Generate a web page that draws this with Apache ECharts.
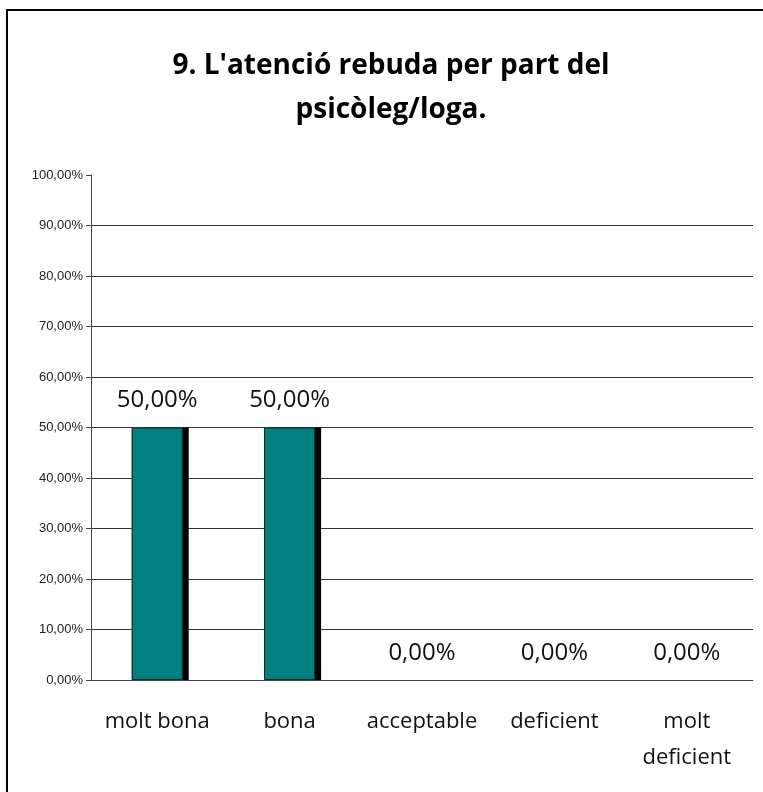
<!DOCTYPE html>
<html>
<head>
<meta charset="utf-8">
<script src="https://cdn.jsdelivr.net/npm/echarts@6/dist/echarts.min.js"></script>
<style>
  html, body { margin: 0; padding: 0; background: #fff; }
  #chart { width: 763px; height: 792px; }
</style>
</head>
<body>
<div id="chart"></div>
<script>
var categories = ['molt bona', 'bona', 'acceptable', 'deficient', 'molt\ndeficient'];
var values = [50, 50, 0, 0, 0];
var titleText = "9. L'atenció rebuda per part del\npsicòleg/loga.";

function pct(v) {
    return v.toFixed(2).replace('.', ',') + '%';
}

var myChart = echarts.init(document.getElementById('chart'));

// empty bars: no shadow and no outline on the axis
var shadowData = values.map(function (v) {
    if (v === 0) {
        return {value: v, itemStyle: {shadowColor: 'rgba(0,0,0,0)'}};
    }
    return v;
});
var barData = values.map(function (v) {
    if (v === 0) {
        return {value: v, itemStyle: {borderWidth: 0}};
    }
    return v;
});

var option = {
    animation: false,
    backgroundColor: '#fff',
    title: {
        text: titleText,
        left: 391,
        textAlign: 'center',
        top: 44,
        padding: 0,
        textStyle: {
            fontFamily: 'Open Sans',
            fontWeight: 'bold',
            fontSize: 28,
            lineHeight: 44,
            color: '#000'
        }
    },
    graphic: [{
        type: 'rect',
        shape: {x: 7, y: 10, width: 800, height: 800},
        style: {fill: 'none', stroke: '#000', lineWidth: 2},
        silent: true
    }],
    grid: {left: 91, right: 10, top: 175, bottom: 112},
    xAxis: {
        type: 'category',
        data: categories,
        boundaryGap: true,
        axisLine: {lineStyle: {color: '#444', width: 1}},
        axisTick: {length: 8, lineStyle: {color: '#444'}},
        axisLabel: {
            interval: 0,
            margin: 24,
            fontFamily: 'Open Sans',
            fontSize: 22,
            lineHeight: 36,
            color: '#111'
        }
    },
    yAxis: {
        type: 'value',
        min: 0,
        max: 100,
        interval: 10,
        axisLine: {show: true, lineStyle: {color: '#444'}},
        axisTick: {show: true, length: 5, lineStyle: {color: '#444'}},
        axisLabel: {
            margin: 8,
            fontFamily: 'Liberation Sans',
            fontSize: 13,
            color: '#222',
            formatter: pct
        },
        splitLine: {show: true, showMaxLine: false, lineStyle: {color: '#333', width: 1}}
    },
    series: [{
        type: 'bar',
        name: 'ombra',
        data: shadowData,
        barWidth: 51,
        barGap: '-100%',
        itemStyle: {
            color: '#008080',
            borderWidth: 0,
            shadowColor: '#000',
            shadowBlur: 0,
            shadowOffsetX: 6,
            shadowOffsetY: 0
        }
    }, {
        type: 'bar',
        name: 'valor',
        data: barData,
        barWidth: 51,
        barGap: '-100%',
        itemStyle: {
            color: '#008080',
            borderColor: '#222',
            borderWidth: 1
        },
        label: {
            show: true,
            position: 'top',
            distance: 15,
            fontFamily: 'Open Sans',
            fontSize: 24,
            color: '#111',
            formatter: function (p) { return pct(p.value); }
        }
    }]
};

myChart.setOption(option);
</script>
</body>
</html>
